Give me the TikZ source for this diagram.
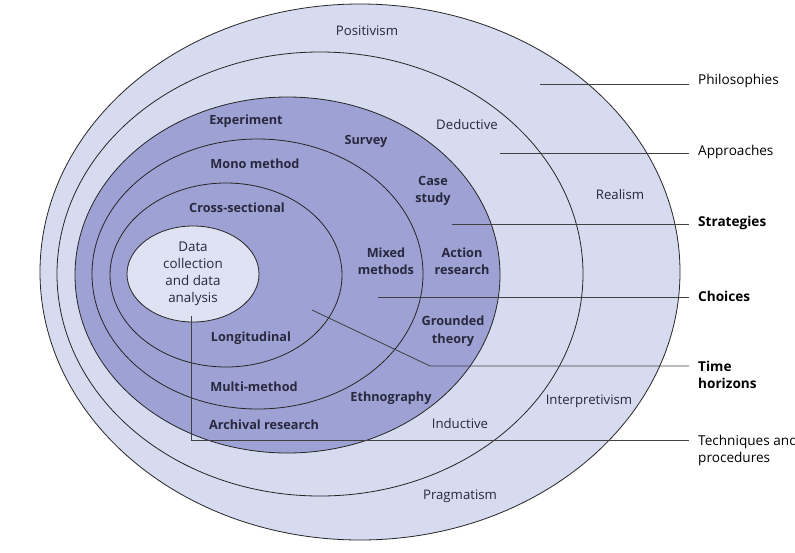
\documentclass[tikz,border=0pt]{standalone}
\usepackage{fontspec}
\setmainfont{Open Sans}
\usetikzlibrary{shapes.geometric}
\definecolor{onionlight}{RGB}{214,219,239}
\definecolor{oniondark}{RGB}{158,161,211}
\definecolor{onioncore}{RGB}{222,226,243}
\definecolor{oniontext}{RGB}{40,40,62}
\tikzset{
  layer/.style={draw=black!85, line width=0.8pt},
  txt/.style={text=oniontext, font=\fontsize{13.2}{17.5}\selectfont, align=center, inner sep=0pt},
  btxt/.style={txt, font=\fontsize{12.7}{17.5}\selectfont\bfseries},
  lbl/.style={text=black, font=\fontsize{13.6}{17}\selectfont, align=left, anchor=west, inner xsep=9pt, inner ysep=0pt},
  blbl/.style={lbl, font=\fontsize{13.6}{17}\selectfont\bfseries},
  pointer/.style={draw=black!75, line width=0.8pt},
}
\begin{document}
\begin{tikzpicture}[x=1pt, y=-1pt]
  \useasboundingbox (0,0) rectangle (795,552);
  % layers of the onion
  \filldraw[layer, fill=onionlight] (360,272) ellipse [x radius=320pt, y radius=268pt];
  \filldraw[layer, fill=onionlight] (320,274) ellipse [x radius=263pt, y radius=222pt];
  \filldraw[layer, fill=oniondark] (287.5,275) ellipse [x radius=212.5pt, y radius=178pt];
  \filldraw[layer, fill=oniondark] (257.5,274) ellipse [x radius=165.5pt, y radius=135pt];
  \filldraw[layer, fill=oniondark] (226,275) ellipse [x radius=116pt, y radius=92pt];
  \node[layer, fill=onioncore, ellipse, minimum width=132pt, minimum height=96pt, inner sep=0pt,
        text=oniontext, font=\fontsize{13.4}{17}\selectfont, align=center] (dc) at (193,274)
        {Data\\collection\\and data\\analysis};

  % texts in the layers
  \node[txt] (tPos) at (367,31) {Positivism};
  \node[txt] (tRea) at (620,195) {Realism};
  \node[txt] (tInt) at (589,401) {Interpretivism};
  \node[txt] (tPra) at (460,496) {Pragmatism};
  \node[txt] (tDed) at (467,125) {Deductive};
  \node[txt] (tInd) at (460,424) {Inductive};
  \node[btxt] (tExp) at (246,121) {Experiment};
  \node[btxt] (tSur) at (366,141) {Survey};
  \node[btxt] (tCas) at (433,191) {Case\\study};
  \node[btxt] (tAct) at (462,261) {Action\\research};
  \node[btxt] (tGro) at (453,331) {Grounded\\theory};
  \node[btxt] (tEth) at (391,398) {Ethnography};
  \node[btxt] (tArc) at (264,425) {Archival research};
  \node[btxt] (tMon) at (255,164) {Mono method};
  \node[btxt] (tMix) at (386,261) {Mixed\\methods};
  \node[btxt] (tMul) at (254,387) {Multi-method};
  \node[btxt] (tCro) at (237,208) {Cross-sectional};
  \node[btxt] (tLon) at (251,338) {Longitudinal};

  % labels on the right
  \node[lbl] (lPhi) at (689,81) {Philosophies};
  \node[lbl] (lApp) at (689,152) {Approaches};
  \node[blbl] (lStr) at (689,223) {Strategies};
  \node[blbl] (lCho) at (689,296) {Choices};
  \node[blbl, anchor=north west] (lTim) at (689,361) {Time\\horizons};
  \node[lbl, anchor=north west] (lTec) at (689,435) {Techniques and\\procedures};

  % pointers
  \coordinate (sPhi) at (540,84);
  \coordinate (sApp) at (500,153);
  \coordinate (sStr) at (452,224);
  \coordinate (sCho) at (378,297);
  \coordinate (sTim) at (312,310);
  \coordinate (bTim) at (430,366);
  \coordinate (sTec) at (191,316);
  \coordinate (bTec) at (191,440);
  \draw[pointer] (sPhi) -- (sPhi -| lPhi.west);
  \draw[pointer] (sApp) -- (sApp -| lApp.west);
  \draw[pointer] (sStr) -- (sStr -| lStr.west);
  \draw[pointer] (sCho) -- (sCho -| lCho.west);
  \draw[pointer] (sTim) -- (bTim) -- (bTim -| lTim.west);
  \draw[pointer] (sTec) -- (bTec) -- (bTec -| lTec.west);
\end{tikzpicture}
\end{document}
